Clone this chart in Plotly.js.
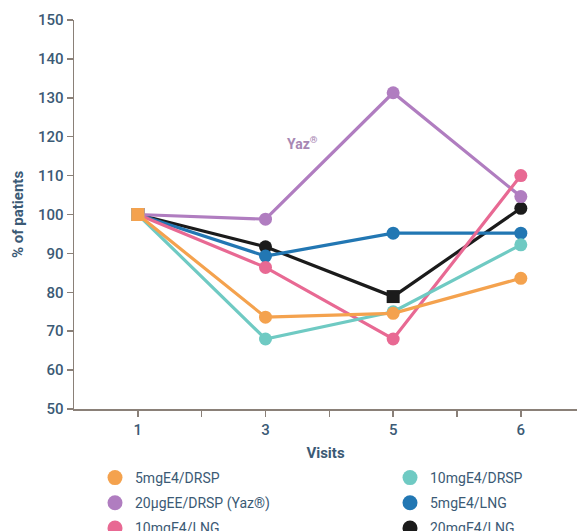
<!DOCTYPE html>
<html>
<head>
<meta charset="utf-8">
<script src="https://cdn.plot.ly/plotly-3.0.1.min.js"></script>
<style>html,body{margin:0;padding:0;background:#fff}#chart{width:577px;height:531px}</style>
</head>
<body>
<div id="chart"></div>
<script>
const visits = ["1", "3", "5", "6"];
const seriesNames = ["5mgE4/DRSP", "10mgE4/DRSP", "20μgEE/DRSP (Yaz®)", "5mgE4/LNG", "10mgE4/LNG", "20mgE4/LNG"];
const e4_5_drsp = [100, 73.6, 74.6, 83.6];
const e4_10_drsp = [100, 68.0, 75.0, 92.2];
const ee_20_drsp = [100, 98.8, 131.3, 104.6];
const e4_5_lng = [100, 89.3, 95.2, 95.2];
const e4_10_lng = [100, 86.4, 68.0, 110.0];
const e4_20_lng = [100, 91.7, 78.9, 101.6];
const colors = ["#F4A24E", "#6FCAC3", "#B07DC0", "#2277B3", "#E86993", "#1B1B1B"];

const seriesData = [e4_5_drsp, e4_10_drsp, ee_20_drsp, e4_5_lng, e4_10_lng, e4_20_lng];
const drawOrder = [5, 3, 2, 4, 1, 0];
const legendOf = ['legend', 'legend2', 'legend', 'legend2', 'legend', 'legend2'];
const xpos = visits.map((v, i) => i);

const traces = [];
drawOrder.forEach(i => {
  const symbols = xpos.map((x, j) => (i === 5 && j === 2) ? 'square' : (j === 0 ? 'square' : 'circle'));
  traces.push({
    x: xpos, y: seriesData[i], mode: 'lines+markers', name: seriesNames[i],
    line: {color: colors[i], width: 3.2},
    marker: {color: colors[i], size: 13, symbol: symbols},
    showlegend: false, hoverinfo: 'skip'
  });
});
seriesNames.forEach((n, i) => {
  traces.push({
    x: [null], y: [null], mode: 'markers', name: n,
    marker: {color: colors[i], size: 15, symbol: 'circle'},
    showlegend: true, legend: legendOf[i], legendgroup: 'g' + i
  });
});

const txt = '#3B5A75';
const axc = '#8A8078';
const legFont = {size: 14, color: txt, family: 'Roboto, sans-serif'};
const layout = {
  width: 577, height: 531,
  margin: {l: 74, r: 0, t: 20, b: 122},
  paper_bgcolor: '#fff', plot_bgcolor: '#fff',
  font: {family: 'Roboto, sans-serif', color: txt, size: 14},
  xaxis: {
    range: [-0.5, 3.44],
    tickvals: xpos,
    ticktext: visits,
    ticks: 'outside', ticklen: 6, tickcolor: axc, tickwidth: 1.5,
    minor: {tickvals: [0.5, 1.5, 2.5], ticks: 'outside', ticklen: 6, tickcolor: axc, tickwidth: 1.5, showgrid: false},
    showline: true, linecolor: axc, linewidth: 1.5,
    showgrid: false, zeroline: false,
    tickfont: {size: 15, color: txt, weight: 500},
    title: {text: '<b>Visits</b>', font: {size: 15, color: txt}, standoff: 13}
  },
  yaxis: {
    range: [50, 150], tickvals: [50, 60, 70, 80, 90, 100, 110, 120, 130, 140, 150],
    ticks: 'outside', ticklen: 6, tickcolor: axc, tickwidth: 1.5,
    showline: true, linecolor: axc, linewidth: 1.5,
    showgrid: false, zeroline: false,
    tickfont: {size: 15, color: txt, weight: 500},
    title: {text: '<b>% of patients</b>', font: {size: 15, color: txt}, standoff: 10}
  },
  legend: {
    xref: 'paper', yref: 'container',
    x: (95 - 74) / 503, xanchor: 'left', y: 1 - 462 / 531, yanchor: 'top',
    font: legFont, traceorder: 'grouped', tracegroupgap: 4, itemsizing: 'trace'
  },
  legend2: {
    xref: 'paper', yref: 'container',
    x: (390 - 74) / 503, xanchor: 'left', y: 1 - 462 / 531, yanchor: 'top',
    font: legFont, traceorder: 'grouped', tracegroupgap: 4, itemsizing: 'trace'
  },
  annotations: [{
    x: 1.29, y: 118.5, xref: 'x', yref: 'y', text: '<b>Yaz<sup>®</sup></b>', showarrow: false,
    font: {size: 14, color: '#A787B3'}
  }]
};
Plotly.newPlot('chart', traces, layout, {displayModeBar: false, staticPlot: true});
</script>
</body>
</html>
